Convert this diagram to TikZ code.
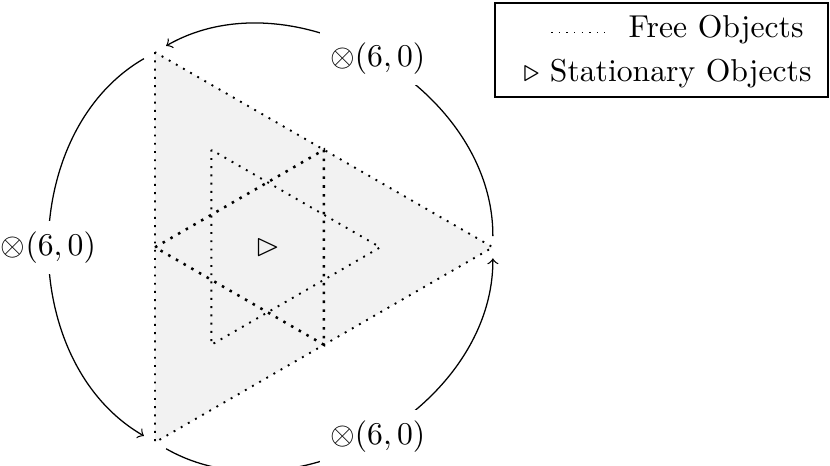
\documentclass[tikz,border=0pt]{standalone}
\usepackage{amssymb}
\usepackage{tikz}
\usetikzlibrary{positioning}
\tikzset{
  vertex/.style={inner sep=3.3pt, minimum size=0pt},
  outertri/.style={fill=gray!10, dotted, semithick},
  innertri/.style={dotted, semithick},
  midtri/.style={dotted, thick},
  orbit/.style={->, bend right=60},
  orbitlabel/.style={fill=white, midway},
  legendbox/.style={
    draw, rectangle, inner sep=0pt,
    minimum width=3.696cm, minimum height=1.043cm
  },
  legendtext/.style={inner sep=0pt, anchor=base west},
  legendline/.style={dotted},
}

\begin{document}
\begin{tikzpicture}[x=1cm, y=1cm]

\useasboundingbox (-2.971,-2.427) rectangle (6.242,2.745);

% ---- Corners of the outer triangle --------------------------------
\node[vertex] (vtop)   at (120:2.5) {};
\node[vertex] (vbot)   at (240:2.5) {};
\node[vertex] (vright) at (  0:2.5) {};

% midpoints of the sides (left-pointing inner triangle)
\coordinate (mleft)  at (180:1.25);
\coordinate (mtop)   at ( 60:1.25);
\coordinate (mbot)   at (300:1.25);

% half-size copy (right-pointing inner triangle)
\coordinate (htop)   at (120:1.25);
\coordinate (hbot)   at (240:1.25);
\coordinate (hright) at (  0:1.25);

% ---- Triangles ----------------------------------------------------
\filldraw[outertri] (vtop.center) -- (vbot.center) -- (vright.center) -- cycle;
\draw[innertri] (htop) -- (hbot) -- (hright) -- cycle;
\draw[midtri]   (mleft) -- (mtop) -- (mbot) -- cycle;

\node (stat) at (0,0) {$\rhd$};

% ---- Orbits between the corners -----------------------------------
\draw[orbit] (vright) to node[orbitlabel] (lab_top) {$\otimes(6,0)$} (vtop);
\draw[orbit] (vtop)   to node[orbitlabel] (lab_left) {$\otimes(6,0)$} (vbot);
\draw[orbit] (vbot)   to node[orbitlabel] (lab_bot) {$\otimes(6,0)$} (vright);

% ---- Legend -------------------------------------------------------
\node[legendbox] (legend) at (4.371,2.19) {};
\coordinate (free_l) at (3.148,2.385);
\coordinate (free_r) at (3.748,2.385);
\draw[legendline] (free_l) -- (free_r);
\node[legendtext] (freetxt) at (4.0,2.334)   {Free Objects};
\node[legendtext] (stattxt) at (2.834,1.835) {$\triangleright$ Stationary Objects};

\end{tikzpicture}
\end{document}
